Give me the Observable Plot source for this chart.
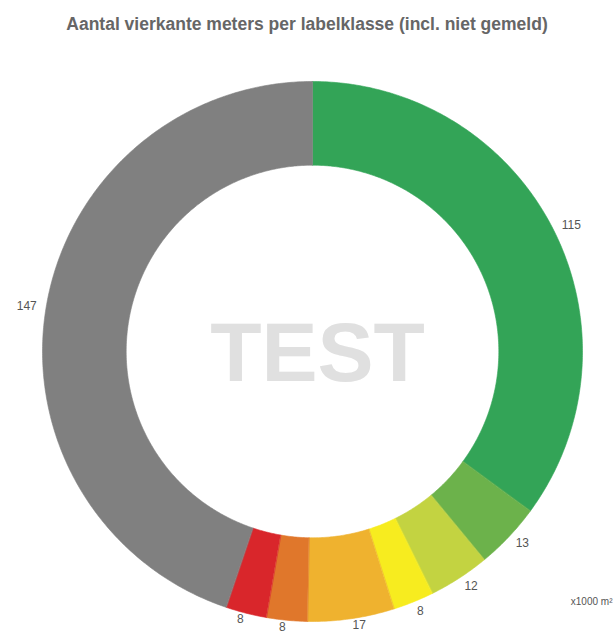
<!DOCTYPE html>
<html><head><meta charset="utf-8">
<script src="https://cdn.jsdelivr.net/npm/d3@7"></script>
<script src="https://cdn.jsdelivr.net/npm/@observablehq/plot@0.6"></script>
<style>
body{margin:0;background:#fff;font-family:"Liberation Sans",Arial,sans-serif;}
#title{height:50px;box-sizing:border-box;padding-top:14px;line-height:20px;text-align:center;font-weight:bold;font-size:17.5px;color:#666;white-space:nowrap;}
#chart svg{display:block;}
</style></head><body>
<div id="title">Aantal vierkante meters per labelklasse (incl. niet gemeld)</div>
<div id="chart"></div>
<script>
const categories = ["A", "B", "C", "D", "E", "F", "G", "Niet gemeld"];
const values = [115, 13, 12, 8, 17, 8, 8, 147];
const colors = ["#33a457", "#6cb24b", "#c3d341", "#f7ec1f", "#efb22f", "#e0772b", "#d9262b", "#808080"];
const valueLabels = ["115", "13", "12", "8", "17", "8", "8", "147"];
const unitLabel = "x1000 m²";
const watermark = "TEST";

const total = d3.sum(values);
const innerRatio = 0.69;
let acc = 0;
const slices = categories.map((c, i) => {
  const a0 = acc / total * 2 * Math.PI;
  acc += values[i];
  const a1 = acc / total * 2 * Math.PI;
  return {c, v: values[i], a0, a1, label: valueLabels[i]};
});
const pts = [];
for (const s of slices) {
  const n = Math.max(4, Math.ceil((s.a1 - s.a0) / (Math.PI / 360)));
  for (let k = 0; k <= n; k++) {
    const a = s.a0 + (s.a1 - s.a0) * k / n;
    pts.push({c: s.c, x: Math.sin(a), y: Math.cos(a)});
  }
  for (let k = n; k >= 0; k--) {
    const a = s.a0 + (s.a1 - s.a0) * k / n;
    pts.push({c: s.c, x: innerRatio * Math.sin(a), y: innerRatio * Math.cos(a)});
  }
}
const labelR = 1.035;
const labels = slices.map(s => {
  const m = (s.a0 + s.a1) / 2;
  return {label: s.label, x: labelR * Math.sin(m), y: labelR * Math.cos(m),
          anchor: Math.sin(m) >= 0 ? "start" : "end", low: Math.cos(m) < -0.95};
});
const labelStyle = {x: "x", y: "y", text: "label", fontSize: 12, fill: "#555"};

const plot = Plot.plot({
  width: 614,
  height: 584,
  margin: 0,
  x: {domain: [-1, 1], range: [42, 582], axis: null},
  y: {domain: [-1, 1], range: [571, 31], axis: null},
  color: {domain: categories, range: colors},
  style: {fontFamily: "Liberation Sans, Arial, sans-serif", background: "#fff"},
  marks: [
    Plot.line(pts, {x: "x", y: "y", z: "c", fill: "c", stroke: "c", strokeWidth: 0.6, curve: "linear-closed"}),
    Plot.text([watermark], {x: () => 0, y: () => 0, text: d => d, dx: 5, dy: 3, fontSize: 84, fontWeight: "bold", fill: "#e0e0e0"}),
    Plot.text(labels.filter(d => d.anchor === "start" && !d.low), {...labelStyle, textAnchor: "start"}),
    Plot.text(labels.filter(d => d.anchor === "start" && d.low), {...labelStyle, textAnchor: "start", dy: -3}),
    Plot.text(labels.filter(d => d.anchor === "end" && !d.low), {...labelStyle, textAnchor: "end"}),
    Plot.text(labels.filter(d => d.anchor === "end" && d.low), {...labelStyle, textAnchor: "end", dy: -3}),
    Plot.text([unitLabel], {frameAnchor: "bottom-right", text: d => d, textAnchor: "end", dx: -2, dy: -30, fontSize: 10, fill: "#555"})
  ]
});
document.getElementById("chart").appendChild(plot);
</script>
</body></html>
